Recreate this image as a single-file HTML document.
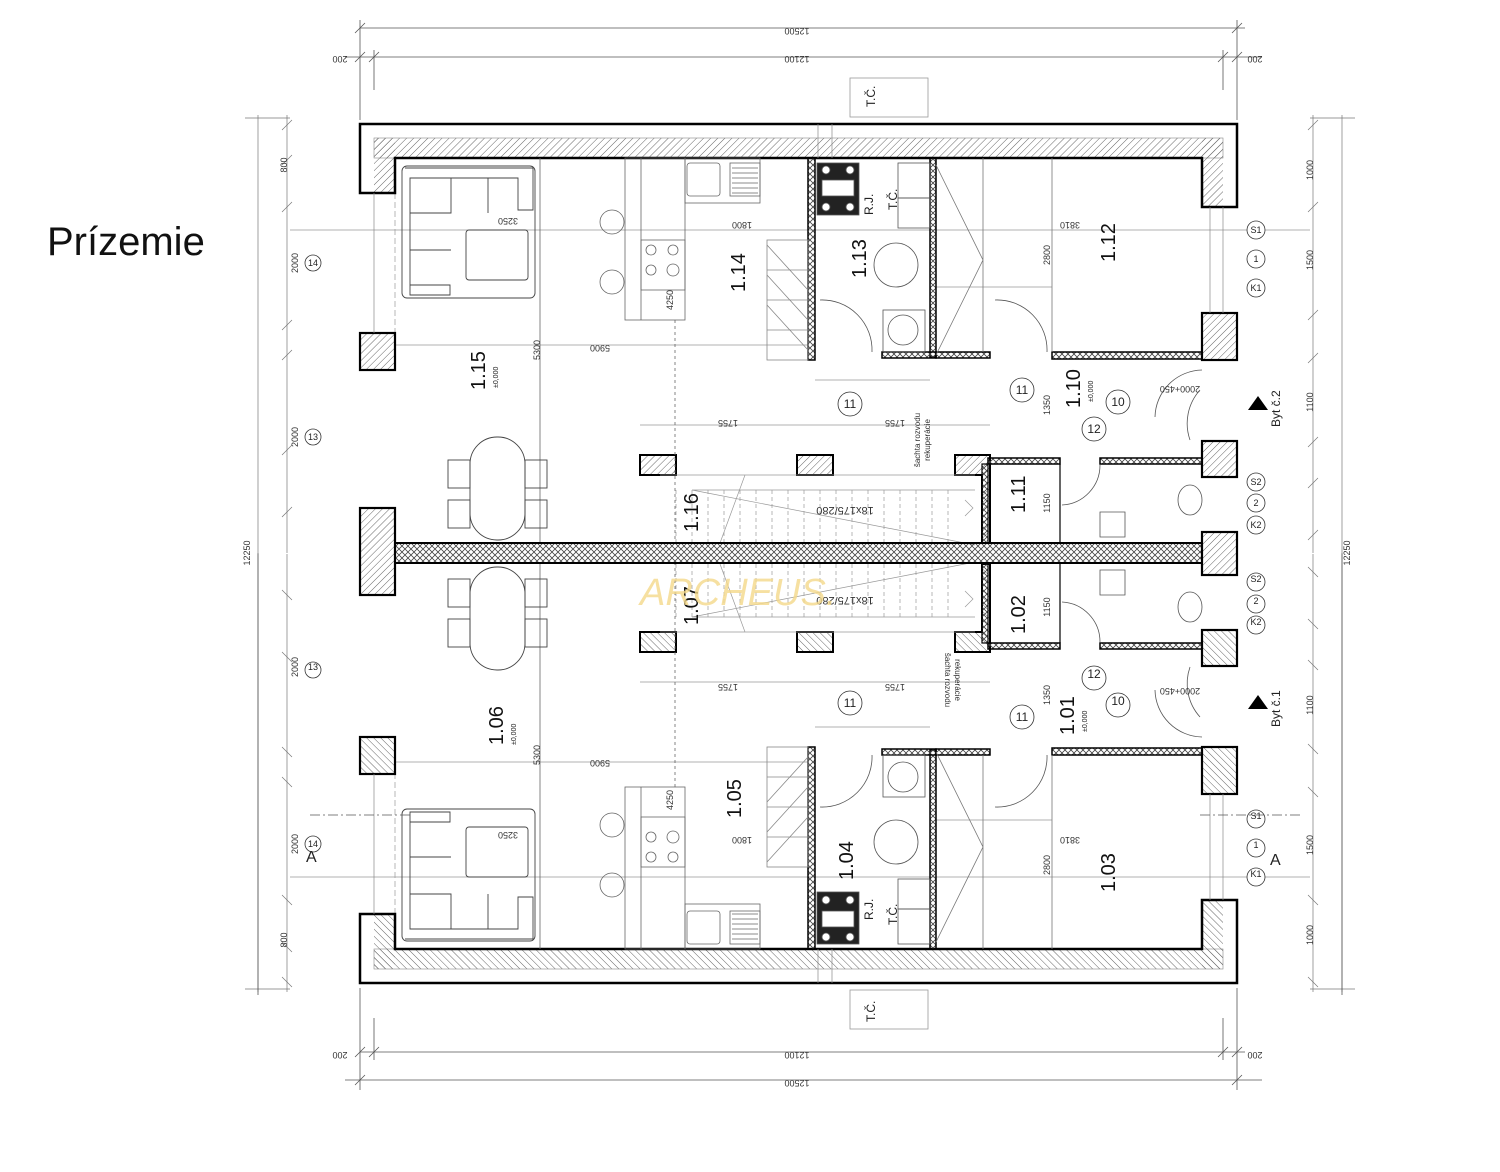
<!DOCTYPE html>
<html><head><meta charset="utf-8"><style>
html,body{margin:0;padding:0;background:#fff;}
svg{display:block}
text{font-family:"Liberation Sans",sans-serif;}
</style></head><body>
<svg width="1500" height="1172" viewBox="0 0 1500 1172" xmlns="http://www.w3.org/2000/svg">
<defs>
<pattern id="h" width="5" height="5" patternUnits="userSpaceOnUse" patternTransform="rotate(45)">
<line x1="0" y1="0" x2="0" y2="5" stroke="#666" stroke-width="1"/></pattern>
<pattern id="x" width="6" height="6" patternUnits="userSpaceOnUse">
<path d="M0,0L6,6M6,0L0,6" stroke="#444" stroke-width="0.8"/></pattern>
<g id="U" fill="none" stroke="#000">
 <g stroke="#999" stroke-width="0.7">
  <line x1="290" y1="230" x2="1310" y2="230"/>
  <line x1="395" y1="345" x2="808" y2="345"/>
  <line x1="640" y1="425" x2="990" y2="425"/>
  <line x1="815" y1="380" x2="930" y2="380"/>
  <line x1="935" y1="287" x2="1052" y2="287"/>
  <line x1="395" y1="193" x2="395" y2="333" stroke-dasharray="6,3"/>
 </g>
 <rect x="374" y="138" width="849" height="20" fill="url(#h)" stroke="#888" stroke-width="0.6"/>
 <rect x="374" y="138" width="21" height="55" fill="url(#h)" stroke="none"/>
 <rect x="1202" y="138" width="21" height="69" fill="url(#h)" stroke="none"/>
 <path d="M360,193V124H1237V207H1202V158H395V193Z" stroke-width="2.5"/>
 <rect x="360" y="333" width="35" height="37" fill="url(#h)" stroke-width="2.2"/>
 <rect x="1202" y="313" width="35" height="47" fill="url(#h)" stroke-width="2.2"/>
 <rect x="1202" y="441" width="35" height="36" fill="url(#h)" stroke-width="2.2"/>
 <line x1="374" y1="193" x2="374" y2="333" stroke="#888" stroke-width="0.7"/>
 <line x1="1223" y1="207" x2="1223" y2="313" stroke="#888" stroke-width="0.7"/>
 <line x1="1210" y1="207" x2="1210" y2="313" stroke="#888" stroke-width="0.7"/>
 <line x1="818" y1="124" x2="818" y2="158" stroke="#888" stroke-width="0.7"/>
 <line x1="832" y1="124" x2="832" y2="158" stroke="#888" stroke-width="0.7"/>
 <rect x="808" y="158" width="7" height="202" fill="url(#x)" stroke-width="1.5"/>
 <rect x="930" y="158" width="6" height="199" fill="url(#x)" stroke-width="1.5"/>
 <rect x="882" y="352" width="54" height="6" fill="url(#x)" stroke-width="1.5"/>
 <rect x="936" y="352" width="54" height="6" fill="url(#x)" stroke-width="1.5"/>
 <rect x="1052" y="352" width="150" height="7" fill="url(#x)" stroke-width="1.5"/>
 <rect x="640" y="455" width="36" height="20" fill="url(#h)" stroke-width="2"/>
 <rect x="797" y="455" width="36" height="20" fill="url(#h)" stroke-width="2"/>
 <path d="M955,455H990V543H982V475H955Z" fill="url(#h)" stroke-width="2"/>
 <rect x="988" y="458" width="72" height="6" fill="url(#x)" stroke-width="1.5"/>
 <rect x="1100" y="458" width="102" height="6" fill="url(#x)" stroke-width="1.5"/>
 <rect x="982" y="464" width="6" height="79" fill="url(#x)" stroke-width="1.2"/>
 <line x1="1060" y1="464" x2="1060" y2="543" stroke-width="1.2"/>
 <g stroke="#999" stroke-width="0.7">
  <line x1="660" y1="475" x2="975" y2="475"/>
  <path d="M676,490V543M692,490V543M708,490V543M724,490V543M740,490V543M756,490V543M772,490V543M788,490V543M804,490V543M820,490V543M836,490V543M852,490V543M868,490V543M884,490V543M900,490V543M916,490V543M932,490V543M948,490V543" stroke-dasharray="4,3"/>
  <path d="M692,490L975,545M745,475L720,543M692,490H975"/>
  <path d="M965,500l8,8l-8,8"/>
 </g>
 <g stroke="#888" stroke-width="0.8">
  <rect x="767" y="240" width="41" height="120"/>
  <path d="M767,270H808M767,300H808M767,330H808M767,245L808,290M767,275L808,320M767,305L808,350"/>
 </g>
 <g stroke="#666" stroke-width="0.8">
  <rect x="625" y="158" width="60" height="162"/>
  <line x1="641" y1="158" x2="641" y2="320"/>
  <rect x="641" y="240" width="44" height="50"/>
  <circle cx="651" cy="250" r="5"/><circle cx="673" cy="250" r="5"/>
  <circle cx="651" cy="270" r="5"/><circle cx="673" cy="270" r="6"/>
  <rect x="685" y="158" width="75" height="45"/>
  <rect x="687" y="163" width="33" height="33" rx="3"/>
  <rect x="730" y="163" width="30" height="33"/>
  <path d="M732,168H758M732,173H758M732,178H758M732,183H758M732,188H758M732,193H758"/>
  <circle cx="612" cy="222" r="12"/><circle cx="612" cy="282" r="12"/>
  <line x1="540" y1="158" x2="540" y2="543"/>
  <line x1="675" y1="320" x2="675" y2="543" stroke-dasharray="3,3"/>
 </g>
 <g stroke="#444" stroke-width="0.9">
  <path d="M405,168H533V210H518V178H410V295H450V285H410"/>
  <rect x="402" y="166" width="133" height="132" rx="5"/>
  <path d="M410,213H451V178M451,178V213M488,178V213M410,250H451"/>
  <rect x="466" y="230" width="62" height="50" rx="3"/>
 </g>
 <g stroke="#444" stroke-width="0.9">
  <rect x="470" y="437" width="55" height="103" rx="27"/>
  <rect x="448" y="460" width="22" height="28"/><rect x="448" y="500" width="22" height="28"/>
  <rect x="525" y="460" width="22" height="28"/><rect x="525" y="500" width="22" height="28"/>
 </g>
 <g stroke="#555" stroke-width="0.8">
  <rect x="817" y="163" width="42" height="52" fill="#222"/>
  <rect x="822" y="180" width="32" height="16" fill="#fff"/>
  <circle cx="826" cy="170" r="4" fill="#fff"/><circle cx="850" cy="170" r="4" fill="#fff"/>
  <circle cx="826" cy="207" r="4" fill="#fff"/><circle cx="850" cy="207" r="4" fill="#fff"/>
  <rect x="898" y="163" width="32" height="35"/><rect x="898" y="198" width="32" height="30"/>
  <circle cx="896" cy="265" r="22"/>
  <rect x="883" y="310" width="42" height="42"/><circle cx="903" cy="330" r="15"/>
  <path d="M820,300A50,50 0 0 1 872,352" />
  <path d="M995,300A50,50 0 0 1 1047,352" />
  <path d="M936,165L983,260L936,355M983,158V352" stroke="#777"/>
  <line x1="1052" y1="158" x2="1052" y2="352" stroke="#777"/>
  <path d="M1202,370A48,48 0 0 0 1155,417M1190,440A50,50 0 0 1 1200,390"/>
  <path d="M1100,465A40,40 0 0 1 1062,505"/>
  <ellipse cx="1190" cy="500" rx="12" ry="15"/>
  <path d="M1100,512h25v25h-25z"/>
 </g>
 <g stroke="#333" stroke-width="0.8" fill="#fff">
  <circle cx="313" cy="263" r="8"/><circle cx="313" cy="437" r="8"/>
  <circle cx="1256" cy="230" r="9"/><circle cx="1256" cy="259" r="9"/><circle cx="1256" cy="288" r="9"/>
  <circle cx="1256" cy="482" r="9"/><circle cx="1256" cy="503" r="9"/><circle cx="1256" cy="525" r="9"/>
  <circle cx="850" cy="404" r="12"/><circle cx="1022" cy="390" r="12"/><circle cx="1118" cy="402" r="12"/><circle cx="1094" cy="429" r="12"/>
 </g>
 <g stroke="#777" stroke-width="0.7">
  <line x1="287" y1="115" x2="287" y2="553"/><line x1="258" y1="115" x2="258" y2="553"/>
  <path d="M282,130l10,-10M282,165l10,-10M282,212l10,-10M282,330l10,-10M282,360l10,-10M282,455l10,-10M282,517l10,-10"/>
  <line x1="1313" y1="115" x2="1313" y2="553"/><line x1="1342" y1="115" x2="1342" y2="553"/>
  <path d="M1308,130l10,-10M1308,212l10,-10M1308,320l10,-10M1308,363l10,-10M1308,447l10,-10M1308,488l10,-10M1308,540l10,-10"/>
  <line x1="245" y1="118" x2="290" y2="118"/><line x1="1310" y1="118" x2="1355" y2="118"/>
 </g>
 <rect x="850" y="78" width="78" height="39" stroke="#999" stroke-width="0.8"/>
</g>
</defs>

<use href="#U"/>
<use href="#U" transform="matrix(1,0,0,-1,0,1107)"/>

<path d="M1248,410l10,-14l10,14z" fill="#000"/>
<path d="M1248,709l10,-14l10,14z" fill="#000"/>

<rect x="395" y="543" width="807" height="20" fill="url(#x)" stroke="#000" stroke-width="2"/>
<rect x="360" y="508" width="35" height="87" fill="url(#h)" stroke="#000" stroke-width="2.2"/>
<rect x="1202" y="532" width="35" height="43" fill="url(#h)" stroke="#000" stroke-width="2.2"/>

<g stroke="#555" stroke-width="0.8" fill="none">
 <line x1="360" y1="28" x2="1245" y2="28"/><line x1="345" y1="57" x2="1262" y2="57"/>
 <line x1="360" y1="20" x2="360" y2="120"/><line x1="1237" y1="20" x2="1237" y2="120"/>
 <line x1="374" y1="50" x2="374" y2="90"/><line x1="1223" y1="50" x2="1223" y2="90"/>
 <line x1="360" y1="1052" x2="1245" y2="1052"/><line x1="345" y1="1080" x2="1262" y2="1080"/>
 <line x1="360" y1="988" x2="360" y2="1090"/><line x1="1237" y1="988" x2="1237" y2="1090"/>
 <line x1="374" y1="1018" x2="374" y2="1060"/><line x1="1223" y1="1018" x2="1223" y2="1060"/>
 <path d="M355,33l10,-10M1232,33l10,-10M355,62l10,-10M369,62l10,-10M1218,62l10,-10M1232,62l10,-10M355,1057l10,-10M369,1057l10,-10M1218,1057l10,-10M1232,1057l10,-10M355,1085l10,-10M1232,1085l10,-10"/>
 <line x1="258" y1="553" x2="258" y2="995"/><line x1="1342" y1="553" x2="1342" y2="995"/>
 <line x1="310" y1="815" x2="410" y2="815" stroke-dasharray="10,3,2,3"/>
 <line x1="1200" y1="815" x2="1300" y2="815" stroke-dasharray="10,3,2,3"/>
</g>

<g font-size="9" fill="#333">
 <text x="797" y="36" transform="rotate(180 797 32)" text-anchor="middle">12500</text>
 <text x="797" y="64" transform="rotate(180 797 60)" text-anchor="middle">12100</text>
 <text x="340" y="64" transform="rotate(180 340 60)" text-anchor="middle">200</text>
 <text x="1255" y="64" transform="rotate(180 1255 60)" text-anchor="middle">200</text>
 <text x="797" y="1060" transform="rotate(180 797 1056)" text-anchor="middle">12100</text>
 <text x="797" y="1088" transform="rotate(180 797 1084)" text-anchor="middle">12500</text>
 <text x="340" y="1060" transform="rotate(180 340 1056)" text-anchor="middle">200</text>
 <text x="1255" y="1060" transform="rotate(180 1255 1056)" text-anchor="middle">200</text>
 <text x="250" y="553" transform="rotate(-90 250 553)" text-anchor="middle">12250</text>
 <text x="1350" y="553" transform="rotate(-90 1350 553)" text-anchor="middle">12250</text>
 <text x="508" y="226" transform="rotate(180 508 222)" text-anchor="middle">3250</text>
 <text x="600" y="353" transform="rotate(180 600 349)" text-anchor="middle">5900</text>
 <text x="600" y="768" transform="rotate(180 600 764)" text-anchor="middle">5900</text>
 <text x="508" y="840" transform="rotate(180 508 836)" text-anchor="middle">3250</text>
 <text x="742" y="230" transform="rotate(180 742 226)" text-anchor="middle">1800</text>
 <text x="742" y="845" transform="rotate(180 742 841)" text-anchor="middle">1800</text>
 <text x="1070" y="230" transform="rotate(180 1070 226)" text-anchor="middle">3810</text>
 <text x="1070" y="845" transform="rotate(180 1070 841)" text-anchor="middle">3810</text>
 <text x="728" y="428" transform="rotate(180 728 424)" text-anchor="middle">1755</text>
 <text x="895" y="428" transform="rotate(180 895 424)" text-anchor="middle">1755</text>
 <text x="728" y="692" transform="rotate(180 728 688)" text-anchor="middle">1755</text>
 <text x="895" y="692" transform="rotate(180 895 688)" text-anchor="middle">1755</text>
 <text x="1180" y="394" transform="rotate(180 1180 390)" text-anchor="middle">2000+450</text>
 <text x="1180" y="696" transform="rotate(180 1180 692)" text-anchor="middle">2000+450</text>
 <text x="298" y="263" transform="rotate(-90 298 263)" text-anchor="middle">2000</text>
 <text x="298" y="437" transform="rotate(-90 298 437)" text-anchor="middle">2000</text>
 <text x="298" y="667" transform="rotate(-90 298 667)" text-anchor="middle">2000</text>
 <text x="298" y="844" transform="rotate(-90 298 844)" text-anchor="middle">2000</text>
 <text x="287" y="165" transform="rotate(-90 287 165)" text-anchor="middle">800</text>
 <text x="287" y="940" transform="rotate(-90 287 940)" text-anchor="middle">800</text>
 <text x="1313" y="170" transform="rotate(-90 1313 170)" text-anchor="middle">1000</text>
 <text x="1313" y="935" transform="rotate(-90 1313 935)" text-anchor="middle">1000</text>
 <text x="1313" y="260" transform="rotate(-90 1313 260)" text-anchor="middle">1500</text>
 <text x="1313" y="845" transform="rotate(-90 1313 845)" text-anchor="middle">1500</text>
 <text x="1313" y="402" transform="rotate(-90 1313 402)" text-anchor="middle">1100</text>
 <text x="1313" y="705" transform="rotate(-90 1313 705)" text-anchor="middle">1100</text>
 <text x="1050" y="255" transform="rotate(-90 1050 255)" text-anchor="middle">2800</text>
 <text x="1050" y="865" transform="rotate(-90 1050 865)" text-anchor="middle">2800</text>
 <text x="1050" y="405" transform="rotate(-90 1050 405)" text-anchor="middle">1350</text>
 <text x="1050" y="695" transform="rotate(-90 1050 695)" text-anchor="middle">1350</text>
 <text x="1050" y="503" transform="rotate(-90 1050 503)" text-anchor="middle">1150</text>
 <text x="1050" y="607" transform="rotate(-90 1050 607)" text-anchor="middle">1150</text>
 <text x="540" y="350" transform="rotate(-90 540 350)" text-anchor="middle">5300</text>
 <text x="540" y="755" transform="rotate(-90 540 755)" text-anchor="middle">5300</text>
 <text x="673" y="300" transform="rotate(-90 673 300)" text-anchor="middle">4250</text>
 <text x="673" y="800" transform="rotate(-90 673 800)" text-anchor="middle">4250</text>
 <text x="920" y="440" transform="rotate(-90 920 440)" text-anchor="middle" font-size="8">šachta rozvodu</text>
 <text x="930" y="440" transform="rotate(-90 930 440)" text-anchor="middle" font-size="8">rekuperácie</text>
 <text x="945" y="680" transform="rotate(90 945 680)" text-anchor="middle" font-size="8">šachta rozvodu</text>
 <text x="955" y="680" transform="rotate(90 955 680)" text-anchor="middle" font-size="8">rekuperácie</text>
 <text x="845" y="515" transform="rotate(180 845 511)" text-anchor="middle" font-size="11">18x175/280</text>
 <text x="845" y="605" transform="rotate(180 845 601)" text-anchor="middle" font-size="11">18x175/280</text>
</g>

<g font-size="9" fill="#222" text-anchor="middle">
 <text x="313" y="266">14</text><text x="313" y="440">13</text><text x="313" y="670">13</text><text x="313" y="847">14</text>
 <text x="1256" y="233">S1</text><text x="1256" y="262">1</text><text x="1256" y="291">K1</text>
 <text x="1256" y="485">S2</text><text x="1256" y="506">2</text><text x="1256" y="528">K2</text>
 <text x="1256" y="582">S2</text><text x="1256" y="604">2</text><text x="1256" y="625">K2</text>
 <text x="1256" y="819">S1</text><text x="1256" y="848">1</text><text x="1256" y="877">K1</text>
 <g font-size="12">
 <text x="850" y="408">11</text><text x="1022" y="394">11</text><text x="1118" y="406">10</text><text x="1094" y="433">12</text>
 <text x="850" y="707">11</text><text x="1022" y="721">11</text><text x="1118" y="705">10</text><text x="1094" y="678">12</text>
 </g>
</g>

<g font-size="20" fill="#111">
 <text transform="translate(485,390) rotate(-90)">1.15</text>
 <text transform="translate(745,292) rotate(-90)">1.14</text>
 <text transform="translate(866,278) rotate(-90)">1.13</text>
 <text transform="translate(1115,262) rotate(-90)">1.12</text>
 <text transform="translate(1080,408) rotate(-90)">1.10</text>
 <text transform="translate(1025,513) rotate(-90)">1.11</text>
 <text transform="translate(698,532) rotate(-90)">1.16</text>
 <text transform="translate(698,625) rotate(-90)">1.07</text>
 <text transform="translate(1025,634) rotate(-90)">1.02</text>
 <text transform="translate(503,745) rotate(-90)">1.06</text>
 <text transform="translate(741,818) rotate(-90)">1.05</text>
 <text transform="translate(853,880) rotate(-90)">1.04</text>
 <text transform="translate(1115,892) rotate(-90)">1.03</text>
 <text transform="translate(1074,735) rotate(-90)">1.01</text>
</g>
<g font-size="12" fill="#222">
 <text transform="translate(875,107) rotate(-90)">T.Č.</text>
 <text transform="translate(875,1022) rotate(-90)">T.Č.</text>
 <text transform="translate(873,215) rotate(-90)">R.J.</text>
 <text transform="translate(897,210) rotate(-90)">T.Č.</text>
 <text transform="translate(873,920) rotate(-90)">R.J.</text>
 <text transform="translate(897,925) rotate(-90)">T.Č.</text>
 <text transform="translate(1280,427) rotate(-90)">Byt č.2</text>
 <text transform="translate(1280,727) rotate(-90)">Byt č.1</text>
 <text x="306" y="862" font-size="16">A</text>
 <text x="1270" y="865" font-size="16">A</text>
</g>
<g font-size="7" fill="#222">
 <text transform="translate(498,388) rotate(-90)">±0,000</text>
 <text transform="translate(1093,402) rotate(-90)">±0,000</text>
 <text transform="translate(516,745) rotate(-90)">±0,000</text>
 <text transform="translate(1087,732) rotate(-90)">±0,000</text>
</g>
<text x="640" y="605" font-family="Liberation Serif,serif" font-style="italic" font-size="38" fill="#f5d98a" opacity="0.8">ARCHEUS.</text>
<text x="47" y="255" font-size="40" fill="#111">Prízemie</text>
</svg>
</body></html>
